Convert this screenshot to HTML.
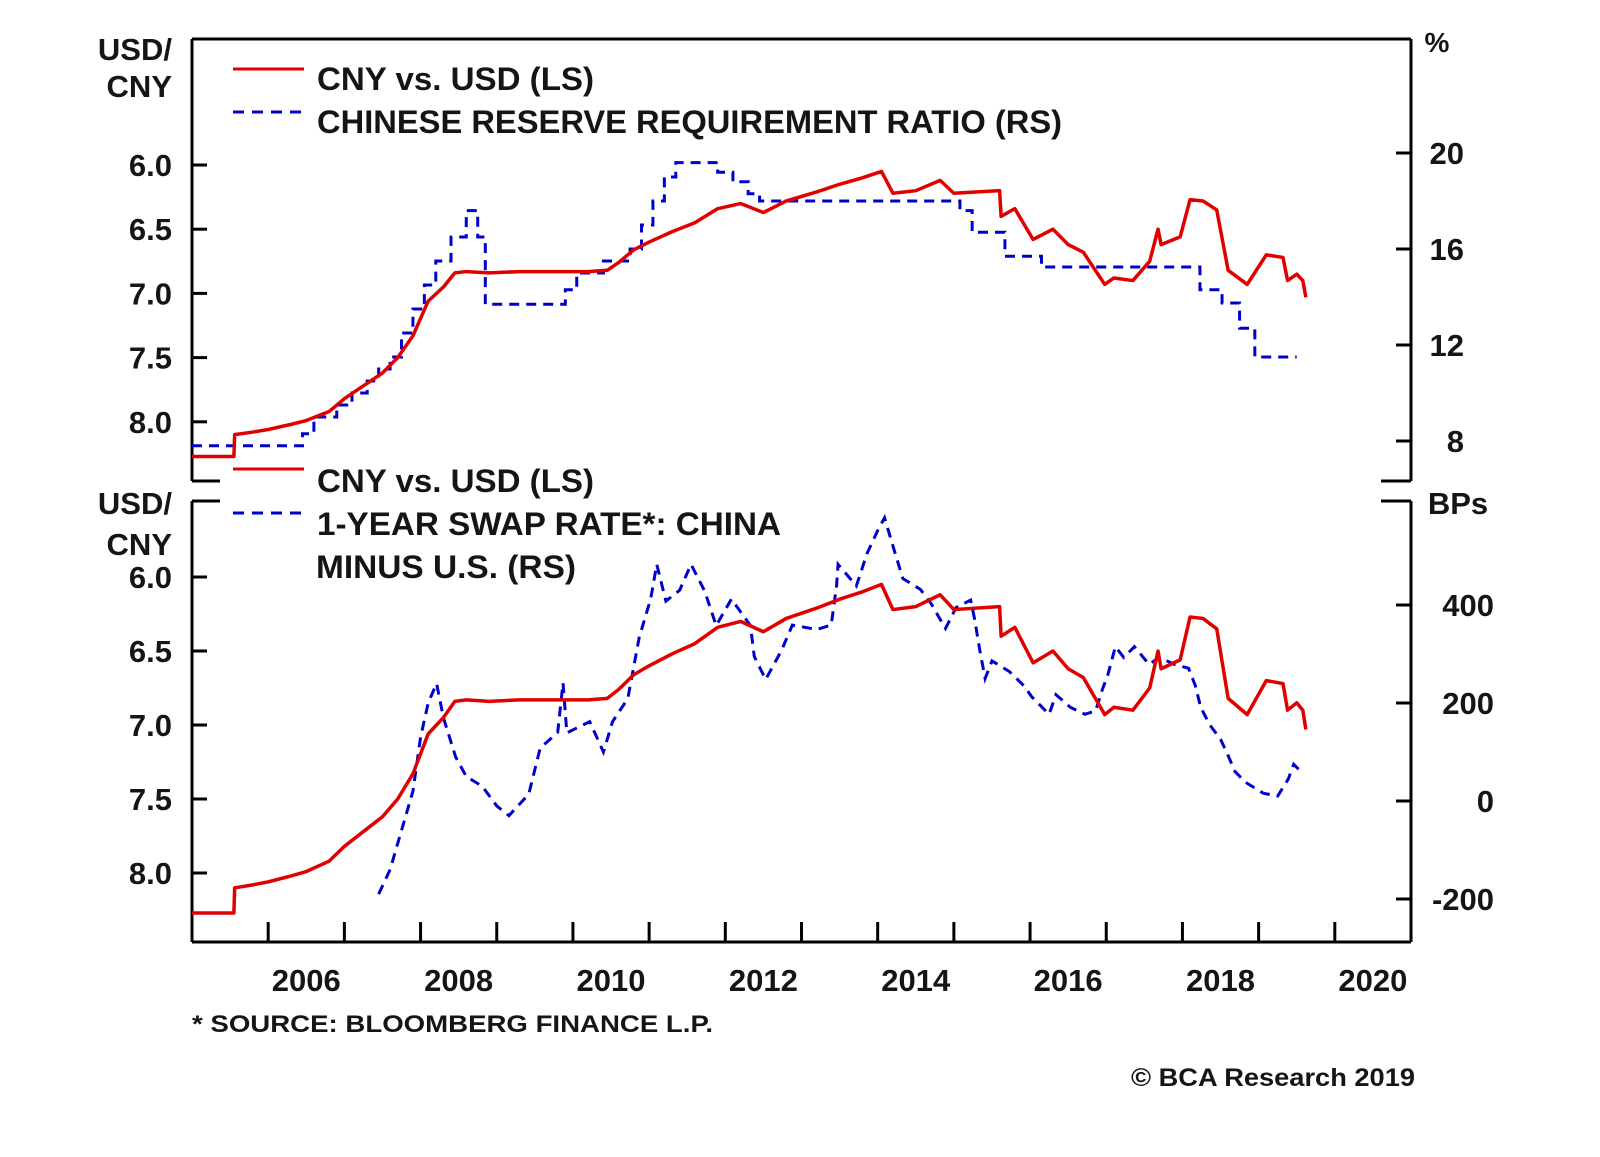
<!DOCTYPE html>
<html><head><meta charset="utf-8"><style>
html,body{margin:0;padding:0;background:#fff;}
svg text{font-family:"Liberation Sans",Arial,sans-serif;font-weight:bold;fill:#151515;}
</style></head><body>
<svg id="chart" width="1600" height="1152" viewBox="0 0 1600 1152" xmlns="http://www.w3.org/2000/svg">
<g id="frame"></g>
<g id="marks"></g>
<g id="labels"></g>
</svg>
<script>
// ---- data ----
const years = [2006,2007,2008,2009,2010,2011,2012,2013,2014,2015,2016,2017,2018,2019,2020];
const yearLabels = ["2006","2008","2010","2012","2014","2016","2018","2020"];
const topLeftTicks = [6.0,6.5,7.0,7.5,8.0];
const topRightTicks = [20,16,12,8];
const botLeftTicks = [6.0,6.5,7.0,7.5,8.0];
const botRightTicks = [400,200,0,-200];
const cnyDates = [2005.0,2005.55,2005.56,2005.8,2006.0,2006.3,2006.5,2006.8,2007.0,2007.25,2007.5,2007.7,2007.9,2008.1,2008.3,2008.45,2008.6,2008.9,2009.3,2009.8,2010.2,2010.45,2010.6,2010.8,2011.0,2011.3,2011.6,2011.9,2012.2,2012.5,2012.8,2013.2,2013.5,2013.8,2014.05,2014.2,2014.5,2014.82,2015.0,2015.6,2015.62,2015.8,2016.04,2016.3,2016.5,2016.7,2016.98,2017.1,2017.35,2017.57,2017.68,2017.72,2017.97,2018.1,2018.27,2018.45,2018.6,2018.85,2019.1,2019.32,2019.38,2019.5,2019.58,2019.62];
const cnyVals = [8.27,8.27,8.10,8.08,8.06,8.02,7.99,7.92,7.82,7.72,7.62,7.50,7.33,7.06,6.95,6.84,6.83,6.84,6.83,6.83,6.83,6.82,6.76,6.66,6.60,6.52,6.45,6.34,6.30,6.37,6.28,6.21,6.15,6.10,6.05,6.22,6.20,6.12,6.22,6.20,6.40,6.34,6.58,6.50,6.62,6.68,6.93,6.88,6.90,6.75,6.50,6.62,6.56,6.27,6.28,6.35,6.82,6.93,6.70,6.72,6.90,6.85,6.90,7.03];
const rrrDates = [2005.0,2006.45,2006.6,2006.9,2007.1,2007.3,2007.45,2007.6,2007.75,2007.9,2008.05,2008.2,2008.4,2008.6,2008.75,2008.85,2009.9,2010.05,2010.4,2010.75,2010.9,2011.05,2011.2,2011.35,2011.9,2012.1,2012.3,2012.45,2015.08,2015.24,2015.67,2016.15,2018.23,2018.52,2018.75,2018.95,2019.5];
const rrrVals = [7.8,8.3,9.0,9.5,10.0,10.5,11.0,11.5,12.5,13.5,14.5,15.5,16.5,17.6,16.5,13.7,14.3,15.0,15.5,16.0,17.0,18.0,19.0,19.6,19.2,18.8,18.3,18.0,17.6,16.7,15.7,15.25,14.3,13.75,12.7,11.5,11.5];
const swapDates = [2007.45,2007.6,2007.75,2007.9,2008.0,2008.1,2008.21,2008.3,2008.46,2008.6,2008.81,2009.0,2009.16,2009.42,2009.57,2009.8,2009.87,2009.92,2010.22,2010.4,2010.52,2010.72,2010.87,2011.02,2011.1,2011.22,2011.4,2011.55,2011.73,2011.88,2012.08,2012.33,2012.38,2012.53,2012.74,2012.88,2013.2,2013.39,2013.46,2013.48,2013.72,2013.86,2014.0,2014.09,2014.23,2014.33,2014.56,2014.7,2014.89,2015.03,2015.22,2015.27,2015.34,2015.41,2015.5,2015.73,2015.92,2016.02,2016.25,2016.34,2016.53,2016.72,2016.86,2016.95,2017.02,2017.12,2017.23,2017.37,2017.56,2017.7,2017.89,2018.08,2018.17,2018.24,2018.36,2018.5,2018.59,2018.69,2018.83,2019.06,2019.25,2019.39,2019.46,2019.58];
const swapVals = [-190,-140,-60,20,130,200,240,170,90,50,30,-10,-30,14,108,140,241,139,162,100,162,209,334,412,483,408,430,483,428,358,412,358,295,248,308,359,350,359,439,483,439,505,552,578,505,454,432,403,352,395,410,373,308,250,286,264,235,213,177,217,191,177,184,228,257,315,293,315,279,293,279,271,235,191,155,126,96,60,38,16,10,45,75,56];

// ---- layout ----
const X0=192, X1=1411, T0=39, T1=481, B0=501, B1=942;
const NS='http://www.w3.org/2000/svg';
function xs(yr){return X0+(yr-2005)*(X1-X0)/16;}
function yTL(v){return 165+(v-6)*128.4;}
function yTR(v){return 153+(20-v)*24;}
function yBL(v){return 577+(v-6)*148;}
function yBR(v){return 605+(400-v)*0.49;}
function mk(tag,attrs,parent){const e=document.createElementNS(NS,tag);for(const k in attrs)e.setAttribute(k,attrs[k]);parent.appendChild(e);return e;}
const frame=document.getElementById('frame'), marks=document.getElementById('marks'), labels=document.getElementById('labels');
const ax={stroke:'#000','stroke-width':3,fill:'none'};
function seg(x1,y1,x2,y2,name){const l=mk('line',Object.assign({x1:x1,y1:y1,x2:x2,y2:y2},ax),frame);}
// top panel borders
seg(X0,T0,X1,T0,'top-panel-top-border');
seg(X0,T0,X0,T1,'top-panel-left-axis');
seg(X1,T0,X1,T1,'top-panel-right-axis');
seg(X0,T1,X0+28,T1,'top-panel-bottom-left-corner');
seg(X1-30,T1,X1,T1,'top-panel-bottom-right-corner');
// bottom panel borders
seg(X0,B0,X0+28,B0,'bottom-panel-top-left-corner');
seg(X1-30,B0,X1,B0,'bottom-panel-top-right-corner');
seg(X0,B0,X0,B1,'bottom-panel-left-axis');
seg(X1,B0,X1,B1,'bottom-panel-right-axis');
seg(X0,B1,X1,B1,'x-axis');
function txt(s,x,y,size,anchor,name,extra){const t=mk('text',{x:x,y:y,'font-size':size,'text-anchor':anchor||'start'},labels);if(extra)for(const k in extra)t.setAttribute(k,extra[k]);t.textContent=s;return t;}
topLeftTicks.forEach(v=>{seg(X0,yTL(v),X0+15,yTL(v),'top-left-tick');txt(v.toFixed(1),172,yTL(v)+11,31,'end','top-left-tick-label');});
topRightTicks.forEach(v=>{seg(X1-15,yTR(v),X1,yTR(v),'top-right-tick');txt(String(v),1464,yTR(v)+11,31,'end','top-right-tick-label');});
botLeftTicks.forEach(v=>{seg(X0,yBL(v),X0+15,yBL(v),'bottom-left-tick');txt(v.toFixed(1),172,yBL(v)+11,31,'end','bottom-left-tick-label');});
botRightTicks.forEach(v=>{seg(X1-15,yBR(v),X1,yBR(v),'bottom-right-tick');txt(String(v),1494,yBR(v)+11,31,'end','bottom-right-tick-label');});
years.forEach(y=>{seg(xs(y),B1-20,xs(y),B1,'x-tick');});
yearLabels.forEach(s=>{txt(s,xs(+s+0.5),991,31,'middle','x-tick-label');});
// series
function path(dates,vals,fx,fy,step){let d='';for(let i=0;i<dates.length;i++){const x=fx(dates[i]),y=fy(vals[i]);if(i===0)d+='M'+x+','+y;else if(step)d+='H'+x+'V'+y;else d+='L'+x+','+y;}return d;}
let p;
p=mk('path',{d:path(rrrDates,rrrVals,xs,yTR,true),stroke:'#0000cc','stroke-width':3,fill:'none','stroke-dasharray':'10,7'},marks);


p=mk('path',{d:path(cnyDates,cnyVals,xs,yTL,false),stroke:'#e00000','stroke-width':3.5,fill:'none','stroke-linejoin':'round'},marks);


p=mk('path',{d:path(swapDates,swapVals,xs,yBR,false),stroke:'#0000cc','stroke-width':3,fill:'none','stroke-dasharray':'10,7'},marks);


p=mk('path',{d:path(cnyDates,cnyVals,xs,yBL,false),stroke:'#e00000','stroke-width':3.5,fill:'none','stroke-linejoin':'round'},marks);


// legends
function lline(y,color,dash,name){const l=mk('line',{x1:233,y1:y,x2:304,y2:y,stroke:color,'stroke-width':3},labels);if(dash)l.setAttribute('stroke-dasharray','11,8');}
lline(69,'#e00000',false,'legend-top-cny-swatch');
txt('CNY vs. USD (LS)',317,90,32,'start','legend-top-cny-label',{textLength:277,lengthAdjust:'spacingAndGlyphs'});
lline(112,'#0000cc',true,'legend-rrr-swatch');
txt('CHINESE RESERVE REQUIREMENT RATIO (RS)',317,133,32,'start','legend-rrr-label',{textLength:745,lengthAdjust:'spacingAndGlyphs'});
lline(469,'#e00000',false,'legend-bottom-cny-swatch');
txt('CNY vs. USD (LS)',317,492,32,'start','legend-bottom-cny-label',{textLength:277,lengthAdjust:'spacingAndGlyphs'});
lline(513,'#0000cc',true,'legend-swap-swatch');
txt('1-YEAR SWAP RATE*: CHINA',317,535,32,'start','legend-swap-label-1',{textLength:464,lengthAdjust:'spacingAndGlyphs'});
txt('MINUS U.S. (RS)',316,578,32,'start','legend-swap-label-2',{textLength:260,lengthAdjust:'spacingAndGlyphs'});
// axis titles
txt('USD/',172,60,31,'end','top-left-axis-title-1');
txt('CNY',172,97,31,'end','top-left-axis-title-2');
txt('%',1437,52,28,'middle','top-right-axis-title');
txt('USD/',172,514,31,'end','bottom-left-axis-title-1');
txt('CNY',172,555,31,'end','bottom-left-axis-title-2');
txt('BPs',1458,514,31,'middle','bottom-right-axis-title');
txt('* SOURCE: BLOOMBERG FINANCE L.P.',192,1032,24,'start','source-note',{textLength:521,lengthAdjust:'spacingAndGlyphs'});
txt('© BCA Research 2019',1415,1086,25,'end','copyright',{textLength:284,lengthAdjust:'spacingAndGlyphs'});
</script>
</body></html>
